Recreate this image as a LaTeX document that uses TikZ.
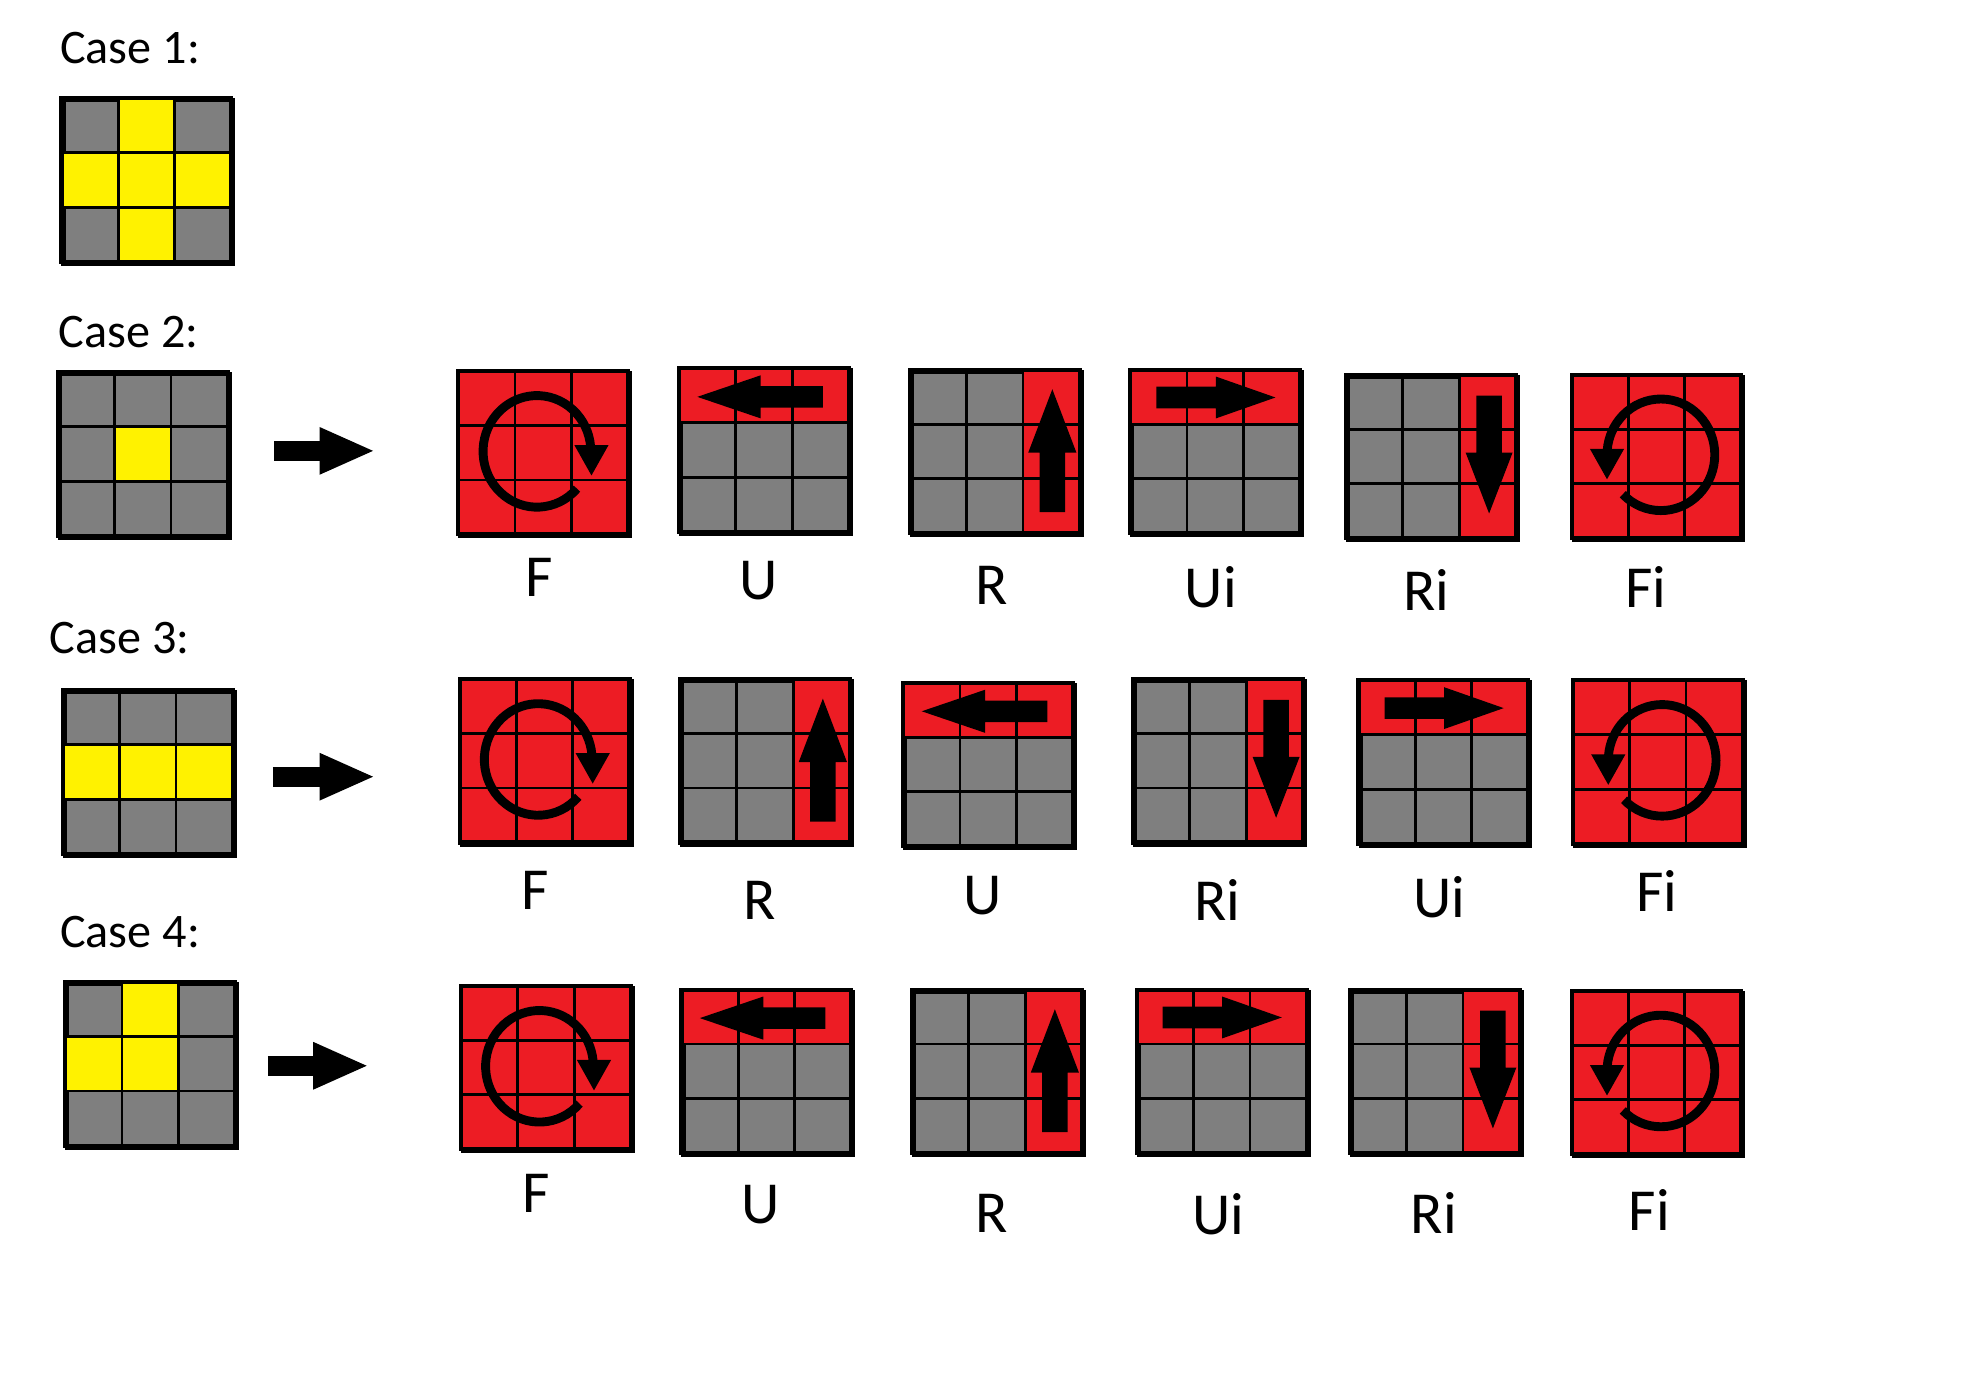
\documentclass[tikz,border=0pt]{standalone}
\usepackage{fontspec}
\setmainfont{Carlito}
\usetikzlibrary{arrows.meta}
\definecolor{cubered}{HTML}{ED1C24}
\definecolor{cubegray}{HTML}{7F7F7F}
\definecolor{cubeyellow}{HTML}{FFF200}

% one side of the cube: name, corner, colour, coloured cells (column/row)
\newcommand{\face}[4]{%
  \node[face, xshift=0.75pt, yshift=-0.75pt] (#1) at #2 {};
  \edef\facelist{#4}%
  \begin{scope}[shift={(#1.north west)}]
    \foreach \cx/\cy in \facelist
      \fill[#3] ({(\cx-1)*134/3},{-(\cy-1)*43}) rectangle +(134/3,-43);
    \draw[gridline] (134/3,0) -- (134/3,-129) (268/3,0) -- (268/3,-129)
                    (0,-43) -- (134,-43) (0,-86) -- (134,-86);
    \draw[rim] (0,0) rectangle (134,-129);
  \end{scope}}
\newcommand{\allcells}{1/1,2/1,3/1,1/2,2/2,3/2,1/3,2/3,3/3}

% the six moves
\newcommand{\moveF}[2]{\face{#1}{#2}{cubered}{\allcells}
  \draw[turnline, onface=#1] (63.5,-65) ++(-42:42.5 and 44)
    arc[start angle=-42, end angle=-355, x radius=42.5, y radius=44];
  \fill[onface=#1] (93,-60) -- (120,-60) -- (106.5,-84) -- cycle;}
\newcommand{\moveFi}[2]{\face{#1}{#2}{cubered}{\allcells}
  \draw[turnline, onface=#1] (72,-64.7) ++(225:42.5 and 44)
    arc[start angle=225, end angle=535, x radius=42.5, y radius=44];
  \fill[onface=#1] (16,-60) -- (43,-60) -- (29.5,-84) -- cycle;}
\newcommand{\moveU}[2]{\face{#1}{#2}{cubered}{1/1,2/1,3/1}
  \fill[onface=#1] (16,-24) -- (66,-7) -- (66,-15.5) -- (115,-15.5)
    -- (115,-32.5) -- (66,-32.5) -- (66,-41) -- cycle;}
\newcommand{\moveUi}[2]{\face{#1}{#2}{cubered}{1/1,2/1,3/1}
  \fill[onface=#1] (116,-23.5) -- (69,-7) -- (69,-15) -- (22,-15)
    -- (22,-32) -- (69,-32) -- (69,-40) -- cycle;}
\newcommand{\moveR}[2]{\face{#1}{#2}{cubered}{3/1,3/2,3/3}
  \fill[onface=#1] (114,-17) -- (133,-67) -- (124,-67) -- (124,-114)
    -- (104,-114) -- (104,-67) -- (95,-67) -- cycle;}
\newcommand{\moveRi}[2]{\face{#1}{#2}{cubered}{3/1,3/2,3/3}
  \fill[onface=#1] (114.5,-111) -- (133,-63) -- (124.5,-63) -- (124.5,-18)
    -- (104.5,-18) -- (104.5,-63) -- (96,-63) -- cycle;}

\begin{document}
\begin{tikzpicture}[x=0.5pt, y=0.5pt]
  \useasboundingbox (0,0) rectangle (1568,-1088.4);
  \tikzstyle{face}=[draw, line width=1.6pt, fill=cubegray, minimum width=67pt,
                    minimum height=64.5pt, inner sep=0pt, anchor=north west]
  \tikzstyle{onface}=[shift={(#1.north west)}, xshift=-0.75pt, yshift=0.75pt]
  \tikzstyle{gridline}=[line width=1.1pt]
  \tikzstyle{rim}=[line width=1.6pt]
  \tikzstyle{turnline}=[line width=3.5pt]
  \tikzstyle{pusharrow}=[line width=8pt, -{Triangle[length=22pt, width=17pt]}]
  \tikzstyle{caselabel}=[anchor=west, inner sep=0pt, font=\fontsize{19}{23}\selectfont]
  \tikzstyle{movelabel}=[inner sep=0pt, font=\fontsize{23.5}{28}\selectfont]

  % the cases
  \node[caselabel] (t1) at (47,-38) {Case 1:};
  \node[caselabel] (t2) at (46,-262) {Case 2:};
  \node[caselabel] (t3) at (39,-503) {Case 3:};
  \node[caselabel] (t4) at (47,-735) {Case 4:};
  \face{c1}{(47,-76)}{cubeyellow}{2/1,1/2,2/2,3/2,2/3}
  \face{c2}{(44,-292)}{cubeyellow}{2/2}
  \face{c3}{(48,-543)}{cubeyellow}{1/2,2/2,3/2}
  \face{c4}{(50,-773)}{cubeyellow}{2/1,1/2,2/2}

  % case 2
  \moveF{F2}{(360,-291)}
  \moveU{U2}{(534,-289)}
  \moveR{R2}{(716,-290)}
  \moveUi{Ui2}{(890,-290)}
  \moveRi{Ri2}{(1060,-294)}
  \moveFi{Fi2}{(1238,-294)}
  \node[movelabel] (lF2) at (425,-455) {F};
  \node[movelabel] (lU2) at (598,-458) {U};
  \node[movelabel] (lR2) at (782,-462) {R};
  \node[movelabel] (lUi2) at (955,-463) {Ui};
  \node[movelabel] (lRi2) at (1125,-465) {Ri};
  \node[movelabel] (lFi2) at (1298,-463) {Fi};

  % case 3
  \moveF{F3}{(361,-534)}
  \moveR{R3}{(535,-534)}
  \moveU{U3}{(711,-537)}
  \moveRi{Ri3}{(892,-534)}
  \moveUi{Ui3}{(1070,-535)}
  \moveFi{Fi3}{(1239,-535)}
  \node[movelabel] (lF3) at (422,-702) {F};
  \node[movelabel] (lR3) at (599,-710) {R};
  \node[movelabel] (lU3) at (775,-706) {U};
  \node[movelabel] (lRi3) at (960,-710) {Ri};
  \node[movelabel] (lUi3) at (1135,-708) {Ui};
  \node[movelabel] (lFi3) at (1307,-703) {Fi};

  % case 4
  \moveF{F4}{(362,-776)}
  \moveU{U4}{(536,-779)}
  \moveR{R4}{(718,-779)}
  \moveUi{Ui4}{(895,-779)}
  \moveRi{Ri4}{(1063,-779)}
  \moveFi{Fi4}{(1238,-780)}
  \node[movelabel] (lF4) at (423,-941) {F};
  \node[movelabel] (lU4) at (600,-950) {U};
  \node[movelabel] (lR4) at (782,-957) {R};
  \node[movelabel] (lUi4) at (961,-958) {Ui};
  \node[movelabel] (lRi4) at (1131,-957) {Ri};
  \node[movelabel] (lFi4) at (1301,-954) {Fi};

  \draw[pusharrow, shorten <=16.75pt, shorten >=32.75pt] ([yshift=2pt]c2.east) -- ([yshift=2pt]c2.east -| F2.west);
  \draw[pusharrow, shorten <=14.25pt, shorten >=33.25pt] ([yshift=-1pt]c3.east) -- ([yshift=-1pt]c3.east -| F3.west);
  \draw[pusharrow, shorten <=11.25pt, shorten >=36.25pt] (c4.east) -- (c4.east -| F4.west);
\end{tikzpicture}
\end{document}
